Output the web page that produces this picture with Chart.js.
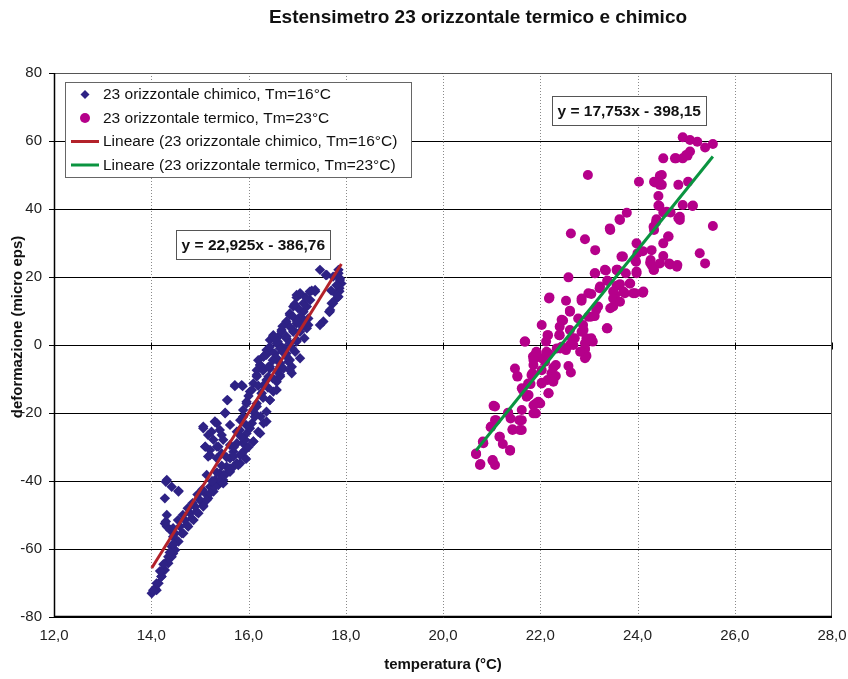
<!DOCTYPE html>
<html lang="it">
<head>
<meta charset="utf-8">
<title>Estensimetro 23 orizzontale termico e chimico</title>
<script src="https://cdn.jsdelivr.net/npm/chart.js@4.4.1/dist/chart.umd.min.js"></script>
<style>
  html, body { margin: 0; padding: 0; background: #fff; }
  #grafico { display: block; }
</style>
</head>
<body>
<canvas id="grafico" width="848" height="679"></canvas>
<script>
// testi del grafico
const titolo = "Estensimetro 23 orizzontale termico e chimico";
const titoloX = "temperatura (°C)";
const titoloY = "deformazione (micro eps)";
const nomiSerie = [
  "23 orizzontale chimico, Tm=16°C",
  "23 orizzontale termico, Tm=23°C",
  "Lineare (23 orizzontale chimico, Tm=16°C)",
  "Lineare (23 orizzontale termico, Tm=23°C)"
];
const equazioni = ["y = 22,925x - 386,76", "y = 17,753x - 398,15"];

// assi
const xMin = 12, xMax = 28, xPasso = 2;
const yMin = -80, yMax = 80, yPasso = 20;

const pendenze = [22.925, 17.753];
const intercette = [-386.76, -398.15];

// punti [temperatura, deformazione]
const chimico = [
  [17.47,22.1],[17.61,20.6],[17.74,20.1],[17.85,21.1],[17.88,19.1],[17.91,18.1],[17.87,16.7],[17.81,13.7],[17.71,12.3],[17.66,9.8],
  [17.54,6.9],[17.30,16.0],[17.37,15.7],[16.99,14.0],[17.07,15.0],[17.20,11.3],[17.13,9.8],[16.85,8.8],[17.06,8.3],[17.23,7.8],
  [16.78,6.9],[16.99,6.4],[17.20,4.9],[16.68,4.4],[16.92,3.9],[16.51,2.9],[16.78,1.9],[16.99,1.0],[16.58,0.5],[16.44,-1.5],
  [16.75,-1.0],[16.96,-2.0],[17.06,-3.9],[16.31,-3.4],[16.58,-3.9],[16.82,-4.9],[16.24,-5.9],[16.44,-6.9],[16.72,-6.9],[16.89,-6.4],
  [16.17,-8.8],[16.41,-9.3],[16.65,-8.8],[16.10,-11.3],[16.31,-11.8],[16.58,-10.8],[15.72,-12.1],[15.88,-12.1],[15.56,-16.2],[16.03,-13.7],
  [16.27,-14.2],[16.51,-13.7],[15.96,-16.7],[16.17,-17.2],[16.44,-16.2],[15.52,-20.1],[15.89,-19.1],[16.13,-20.1],[16.37,-19.6],[16.31,-23.0],
  [16.07,-23.0],[15.83,-22.1],[15.07,-24.0],[15.35,-23.0],[15.62,-23.5],[15.24,-25.5],[15.45,-26.5],[15.76,-25.5],[15.96,-26.0],[16.20,-25.5],
  [15.11,-29.9],[15.35,-29.9],[15.62,-29.4],[15.89,-28.9],[16.10,-28.4],[15.17,-32.8],[15.45,-31.9],[15.69,-31.4],[15.93,-30.9],[15.62,-33.3],
  [15.83,-32.4],[15.55,-35.8],[15.76,-34.8],[15.41,-37.8],[15.62,-37.3],[15.31,-39.7],[15.48,-39.7],[15.21,-41.7],[15.38,-41.2],[15.11,-43.6],
  [15.28,-43.1],[15.00,-45.6],[15.17,-45.1],[14.90,-47.5],[15.07,-47.1],[14.80,-49.5],[14.93,-49.0],[14.69,-51.5],[14.83,-51.0],[14.59,-53.4],
  [14.73,-52.9],[14.49,-55.4],[14.63,-55.4],[14.52,-57.8],[14.42,-59.3],[14.45,-61.3],[14.32,-63.7],[14.35,-62.3],[14.25,-66.2],[14.21,-68.1],
  [14.15,-70.1],[14.08,-71.6],[14.01,-73.0],[14.11,-72.1],
  [14.32,-39.7],[14.42,-41.7],[14.28,-45.1],[14.56,-42.9],[14.32,-50.0],[14.32,-53.4],[14.39,-54.4],[14.28,-52.5],[14.45,-56.4],
  [15.31,-22.6],[15.21,-30.9],[15.35,-33.3],[15.28,-27.9],[16.68,-0.5],[16.78,-2.5],[16.61,2.4],[16.85,5.4],[17.02,10.8],[16.92,11.3],
  [17.13,12.3],[17.27,13.2],[17.67,9.8],[17.80,15.0],[17.87,15.8],[16.44,1.5],[16.37,-1.5],
  [15.83,-34.8],[15.69,-35.8],[15.55,-37.7],[15.41,-39.7],[15.31,-41.7],[15.21,-43.6],[15.14,-45.6],[15.07,-47.5],[14.97,-49.5],[14.87,-51.5],
  [14.76,-53.4],[14.66,-55.4],[14.56,-57.8],[14.49,-60.3],[14.42,-62.3],[14.35,-64.2],[14.28,-66.2],[14.21,-68.1],[14.11,-70.1],[14.04,-72.1],
  [15.48,-40.7],[14.30,-40.2],[14.56,-43.1],[14.30,-51.9],[14.45,-53.9],
  [15.72,-11.8],[15.86,-11.8],[15.57,-16.2],[15.52,-19.9],[15.31,-22.5],[15.07,-24.5],[15.17,-26.5],[15.41,-25.0],[15.11,-29.9],[15.21,-32.4],
  [15.38,-29.9],[15.48,-27.9],[16.37,-2.9],[16.54,-2.5],[16.24,-5.9],[16.44,-6.4],[16.65,-5.4],[16.85,-4.4],[16.17,-9.3],[16.37,-10.3],
  [16.65,-9.3],[16.89,-8.3],[16.07,-13.2],[16.27,-14.2],[16.58,-13.2],[15.96,-17.2],[16.17,-18.1],[16.44,-16.2],[15.89,-21.1],[16.13,-21.1],
  [16.37,-22.5],[15.82,-25.0],[16.03,-24.5],[16.24,-26.0],[15.76,-28.9],[15.93,-27.9],[16.10,-28.4],[15.69,-32.8],[15.86,-31.9],[15.62,-36.3],
  [15.79,-35.3],[15.48,-38.2],[15.14,-38.2],
  [17.59,20.6],[17.85,22.1],[17.88,19.6],[17.81,17.6],[17.85,14.2],[17.74,12.3],[17.68,10.3],[17.47,5.9],[16.99,14.7],[17.06,15.2],
  [17.26,15.7],[17.37,16.2],[16.85,9.3],[16.92,8.3],[17.13,7.4],[17.23,5.9],[16.68,3.9],[16.92,4.4],[16.51,2.5],[16.78,2.5],
  [17.06,3.9],[16.44,-0.5],[16.65,-1.0],[16.85,0.5],[16.99,1.5],[16.31,-3.4],[16.55,-3.9],[16.78,-3.4],[16.17,-7.4],[16.41,-6.4],
  [16.65,-6.4],[16.85,-7.4],
  [16.20,-4.5],[16.30,-7.5],[16.50,-4.5],[16.60,-7.8],[16.70,-2.0],[16.50,-9.8],[16.40,-12.5],[16.20,-12.0],[16.00,-15.0],[16.30,-15.5],
  [16.10,-19.0],[16.25,-21.0],[15.95,-23.5],[15.85,-27.0],[16.00,-30.0],[15.70,-30.0],[15.95,-33.5],[15.55,-33.0],[15.45,-35.5],[15.35,-37.5],
  [15.25,-40.0],[15.05,-42.5],[14.95,-44.0],[14.85,-46.5],[14.75,-48.0],[14.65,-50.0],[14.55,-51.5],[14.45,-58.5],[14.38,-61.0],[14.25,-64.5],
  [14.18,-66.5],[16.60,1.0],[16.90,-1.0],[16.70,5.5],[17.00,7.0],[17.10,5.5],[17.15,2.0],[16.95,12.0],[17.18,14.0],[17.70,16.0]
];

const termico = [
  [24.93,61.1],[25.08,60.3],[25.23,59.8],[25.39,58.1],[25.55,59.1],[25.08,56.9],[25.00,55.9],[24.79,54.9],[24.93,54.9],[24.53,54.9],
  [22.98,50.0],[24.03,48.0],[24.34,48.0],[24.50,50.0],[24.46,47.1],[24.84,47.1],[25.04,48.0],[24.43,43.8],[24.45,40.9],[24.93,41.2],
  [25.13,40.9],[24.60,39.2],[24.87,37.7],[24.39,37.0],[24.33,34.8],[25.55,35.0],[22.63,32.8],[22.92,31.1],[23.43,34.3],[23.63,37.0],
  [23.78,38.9],[23.13,27.9],[23.98,29.9],[24.29,27.9],[24.53,29.9],[24.63,31.9],[25.28,27.0],[25.39,24.0],[23.67,26.0],[23.97,24.5],
  [24.26,24.2],[24.34,22.1],[24.53,26.2],[24.65,24.0],[24.82,23.5],[24.84,37.3],[22.58,19.9],[23.13,21.1],[23.33,22.1],[23.57,22.1],
  [23.98,21.1],[23.38,18.9],[23.57,17.4],[23.23,17.2],[23.85,18.1],[24.11,15.4],[23.95,15.2],[23.74,15.2],[23.54,14.7],[23.50,11.3],
  [22.99,15.2],[22.85,13.7],[22.53,13.0],[22.19,14.0],[22.61,10.1],[22.44,7.4],[22.78,7.8],[23.04,8.3],[23.15,10.3],[23.37,4.9],
  [22.03,5.9],[22.15,2.9],[22.39,2.9],[22.65,2.0],[22.89,4.4],[22.95,2.0],[23.08,1.0],[21.69,1.0],[21.91,-2.5],[22.15,-2.5],
  [22.03,-3.9],[21.86,-5.9],[22.34,-1.0],[22.53,-1.5],[22.92,-1.3],[22.92,-3.9],[21.48,-6.9],[21.53,-9.3],[21.84,-8.3],[22.03,-7.4],
  [22.27,-6.6],[22.15,-10.3],[21.80,-11.5],[22.28,-9.8],[22.58,-6.2],[22.63,-8.1],[22.03,-11.1],[21.62,-12.7],[21.76,-14.7],[21.91,-17.2],
  [22.17,-14.2],[21.62,-19.1],[21.34,-19.9],[21.39,-21.6],[21.57,-22.1],[21.04,-17.9],[21.09,-22.1],[20.99,-24.0],[21.16,-27.0],[21.23,-29.1],
  [20.82,-28.4],[20.68,-31.9],[20.76,-35.3],[21.02,-33.8],[21.07,-35.3],[21.38,-30.9],[21.43,-24.8],[21.62,-25.0],[22.00,-17.2],[21.91,-20.1],
  [23.12,21.1],[23.35,21.9],[23.58,21.9],[23.76,21.1],[23.38,18.9],[23.64,17.9],[23.84,18.1],[23.22,16.7],[23.50,15.7],
  [23.71,15.7],[23.91,15.2],[24.12,15.7],[23.05,15.0],[22.85,13.0],[22.18,13.7],[23.50,13.7],[23.64,12.7],[23.19,11.3],
  [23.44,10.8],[22.61,9.8],[22.99,8.3],[23.12,8.5],[22.47,7.2],[22.40,5.4],[22.61,4.4],[22.88,5.9],
  [22.85,3.9],[23.38,4.9],[22.16,2.9],[22.40,2.9],[22.71,2.0],[23.05,2.0],[21.68,1.0],[22.68,0.0],[22.92,-1.0],[21.92,-2.0],
  [22.13,-2.0],[22.44,-0.5],[21.85,-3.4],[22.95,-3.2],
  [22.12,1.0],[22.41,-1.0],[22.61,0.0],[21.93,-2.3],[22.17,-2.5],[21.86,-4.4],[22.10,-4.9],[22.32,-5.9],[21.53,-9.1],[21.82,-8.8],
  [22.23,-8.3],[22.32,-9.1],[21.75,-11.3],[22.03,-11.3],[22.27,-10.8],[21.64,-13.2],[22.17,-14.2],[21.72,-15.2],[21.96,-16.7],[21.86,-17.7],
  [21.07,-18.1],[21.34,-20.1],[21.86,-20.1],[21.62,-22.1],[21.07,-22.1],[20.98,-24.2],[21.43,-25.0],[21.58,-25.0],[21.17,-27.0],
  [20.83,-28.9],[21.38,-31.1],[20.68,-32.1],[20.77,-35.0],[21.02,-34.0],[22.82,-2.0],[22.92,0.5],
  [24.46,49.8],[24.36,47.8],[24.50,47.1],[24.43,41.0],[25.14,41.0],[23.64,36.8],[23.44,33.8],[24.53,39.0],
  [24.68,39.0],[24.87,36.8],[24.38,36.1],[24.34,33.8],[24.64,31.9],[24.11,27.6],[23.70,26.0],
  [23.95,25.0],[24.00,27.0],[24.27,25.0],[24.29,23.5],[24.46,24.0],[24.67,23.7],[24.81,23.0],[24.33,22.1],
  [23.59,22.1],[23.98,21.6],[25.03,55.7],[24.77,54.9]
];

const FONT = '"Liberation Sans", Arial, sans-serif';
Chart.defaults.font.family = FONT;

const aPunti = arr => arr.map(([x, y]) => ({ x, y }));

function tendenza(punti, i) {
  const xs = punti.map(p => p[0]);
  const da = Math.min(...xs), a = Math.max(...xs);
  return [da, a].map(x => ({ x, y: pendenze[i] * x + intercette[i] }));
}

// griglia verticale tratteggiata, bordi, legenda, equazioni e titoli
const decorazioni = {
  id: 'decorazioni',
  beforeDatasetsDraw(chart) {
    const { ctx, chartArea: a, scales: { x, y } } = chart;
    ctx.save();
    ctx.strokeStyle = '#8a8a8a';
    ctx.lineWidth = 1;
    ctx.setLineDash([1, 2]);
    x.ticks.forEach(t => {
      if (t.value <= xMin || t.value >= xMax) return;
      const px = Math.round(x.getPixelForValue(t.value)) + 0.5;
      ctx.beginPath(); ctx.moveTo(px, a.top); ctx.lineTo(px, a.bottom); ctx.stroke();
    });
    ctx.setLineDash([]);
    ctx.strokeStyle = '#000';
    const y0 = Math.round(y.getPixelForValue(0)) + 0.5;
    x.ticks.forEach(t => {
      const px = Math.round(x.getPixelForValue(t.value)) + 0.5;
      ctx.beginPath(); ctx.moveTo(px, y0 - 3); ctx.lineTo(px, y0 + 4); ctx.stroke();
    });
    ctx.restore();
  },
  afterDraw(chart) {
    const { ctx, chartArea: a, scales: { x, y } } = chart;
    ctx.save();

    // bordo area del grafico
    ctx.lineWidth = 1;
    ctx.strokeStyle = '#555';
    ctx.beginPath();
    ctx.moveTo(a.left, a.top + 0.5); ctx.lineTo(a.right - 0.5, a.top + 0.5); ctx.lineTo(a.right - 0.5, a.bottom);
    ctx.stroke();
    ctx.strokeStyle = '#000';
    ctx.lineWidth = 1.5;
    ctx.beginPath();
    ctx.moveTo(a.left + 0.5, a.top); ctx.lineTo(a.left + 0.5, a.bottom - 0.5); ctx.lineTo(a.right, a.bottom - 0.5);
    ctx.stroke();

    // legenda
    const lx = 65, ly = 82, lw = 346, lh = 95;
    ctx.fillStyle = '#fff';
    ctx.fillRect(lx, ly, lw, lh);
    ctx.lineWidth = 1;
    ctx.strokeStyle = '#666';
    ctx.strokeRect(lx + 0.5, ly + 0.5, lw, lh);
    const righe = [94.5, 118, 141.5, 165];
    ctx.font = '15.5px ' + FONT;
    ctx.textBaseline = 'middle';
    ctx.textAlign = 'left';
    chart.data.datasets.forEach((ds, i) => {
      const ry = righe[i];
      if (ds.showLine) {
        ctx.strokeStyle = ds.borderColor;
        ctx.lineWidth = 3;
        ctx.beginPath(); ctx.moveTo(71, ry); ctx.lineTo(99, ry); ctx.stroke();
      } else if (ds.pointStyle === 'rectRot') {
        ctx.fillStyle = ds.backgroundColor;
        ctx.beginPath();
        ctx.moveTo(85, ry - 4.5); ctx.lineTo(89.5, ry); ctx.lineTo(85, ry + 4.5); ctx.lineTo(80.5, ry);
        ctx.closePath(); ctx.fill();
      } else {
        ctx.fillStyle = ds.backgroundColor;
        ctx.beginPath(); ctx.arc(85, ry, 5, 0, Math.PI * 2); ctx.fill();
      }
      ctx.fillStyle = '#111';
      ctx.fillText(ds.label, 103, ry + 0.5);
    });

    // etichette delle equazioni
    const posEq = [[16.1, 29.6], [23.83, 69.0]];
    ctx.font = 'bold 15.5px ' + FONT;
    ctx.textAlign = 'center';
    equazioni.forEach((testo, i) => {
      const cx = x.getPixelForValue(posEq[i][0]);
      const cy = y.getPixelForValue(posEq[i][1]);
      const w = 154, h = 29;
      ctx.fillStyle = '#fff';
      ctx.fillRect(cx - w / 2, cy - h / 2, w, h);
      ctx.strokeStyle = '#555';
      ctx.lineWidth = 1;
      ctx.strokeRect(Math.round(cx - w / 2) + 0.5, Math.round(cy - h / 2) + 0.5, w, h);
      ctx.fillStyle = '#111';
      ctx.fillText(testo, cx, cy + 1);
    });

    // titoli
    ctx.fillStyle = '#111';
    ctx.font = 'bold 19px ' + FONT;
    ctx.fillText(titolo, 478, 18);
    ctx.font = 'bold 15px ' + FONT;
    ctx.fillText(titoloX, 443, 665);
    ctx.translate(18, 327);
    ctx.rotate(-Math.PI / 2);
    ctx.fillText(titoloY, 0, 0);
    ctx.restore();
  }
};

new Chart(document.getElementById('grafico'), {
  type: 'scatter',
  data: {
    datasets: [
      {
        label: nomiSerie[0],
        data: aPunti(chimico),
        pointStyle: 'rectRot',
        pointRadius: 5.2,
        borderWidth: 0,
        backgroundColor: '#2E2285',
        borderColor: '#2E2285',
        order: 3
      },
      {
        label: nomiSerie[1],
        data: aPunti(termico),
        pointStyle: 'circle',
        pointRadius: 5,
        borderWidth: 0,
        backgroundColor: '#B5008A',
        borderColor: '#B5008A',
        order: 2
      },
      {
        label: nomiSerie[2],
        data: tendenza(chimico, 0),
        showLine: true,
        pointRadius: 0,
        borderWidth: 3,
        borderColor: '#B3222A',
        backgroundColor: '#B3222A',
        order: 1
      },
      {
        label: nomiSerie[3],
        data: tendenza(termico, 1),
        showLine: true,
        pointRadius: 0,
        borderWidth: 3,
        borderColor: '#0A9440',
        backgroundColor: '#0A9440',
        order: 0
      }
    ]
  },
  options: {
    responsive: false,
    animation: false,
    devicePixelRatio: 1,
    layout: { padding: { top: 73, right: 16, bottom: 0, left: 0 } },
    plugins: {
      legend: { display: false },
      title: { display: false },
      tooltip: { enabled: false }
    },
    scales: {
      x: {
        type: 'linear',
        min: xMin,
        max: xMax,
        ticks: {
          stepSize: xPasso,
          padding: 10,
          maxRotation: 0,
          color: '#222',
          font: { size: 15 },
          callback: v => v.toFixed(1).replace('.', ',')
        },
        grid: { display: false, drawTicks: false },
        border: { display: false },
        afterFit: s => { s.height = 62; s.paddingLeft = 0; s.paddingRight = 0; }
      },
      y: {
        min: yMin,
        max: yMax,
        ticks: { stepSize: yPasso, padding: 7, color: '#222', font: { size: 15 } },
        grid: { color: '#000', lineWidth: 1, tickLength: 5, tickColor: '#000' },
        border: { display: true, color: '#000', width: 1 },
        afterFit: s => { s.width = 54; s.paddingTop = 0; s.paddingBottom = 0; }
      }
    }
  },
  plugins: [decorazioni]
});
</script>
</body>
</html>
